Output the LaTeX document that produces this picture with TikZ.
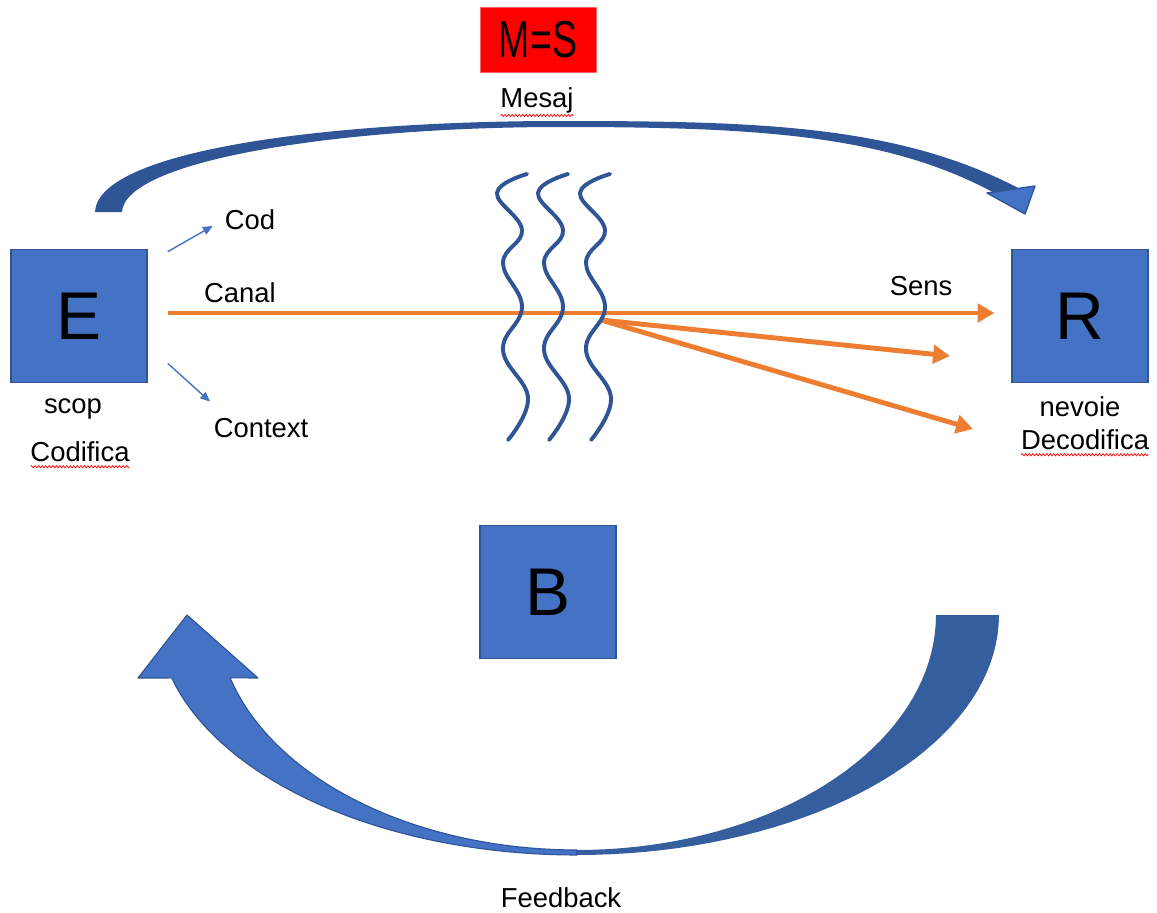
\documentclass[tikz,border=0pt]{standalone}
\usepackage{fontspec}
\setmainfont{Liberation Sans}
\usetikzlibrary{arrows.meta, positioning, calc, decorations.pathmorphing}

\definecolor{boxblue}   {RGB}{68, 114, 196}
\definecolor{deepblue}  {RGB}{47,  85, 151}
\definecolor{shadeblue} {RGB}{53,  94, 158}
\definecolor{canalorange}{RGB}{237, 125, 49}
\definecolor{msgred}    {RGB}{255,  0,   0}

\tikzset{
	actor/.style={draw=deepblue, line width=1pt, fill=boxblue, inner sep=0pt,
		minimum width=3.4cm, minimum height=3.33cm, font=\fontsize{48}{50}\selectfont},
	lbl/.style={font=\fontsize{19.5}{23}\selectfont, inner sep=1pt},
	canal/.style={canalorange, line width=3.5pt, -{Triangle[length=12pt,width=13pt]}},
	aside/.style={boxblue, line width=1pt, -{Triangle[length=7pt,width=6pt]}},
	spell/.style={red, line width=0.5pt, decorate,
		decoration={zigzag, amplitude=0.8pt, segment length=2.5pt}},
	wave/.style={deepblue, line width=2.8pt, line cap=round}
}

\begin{document}
\begin{tikzpicture}[x=0.025cm, y=-0.025cm]
	\useasboundingbox (0,0) rectangle (1157,913);

	% sender, receiver, barrier
	\node[actor] (E) at (79,316) {E};
	\node[actor] (R) at (1080,316) {R};
	\node[actor] (B) at (548,592) {B};

	% message box
	\node[fill=msgred, draw=msgred!60!white, line width=0.5pt, minimum width=2.9cm,
		minimum height=1.63cm, font=\fontsize{37}{40}\selectfont] (msg) at (538,40)
		{\scalebox{0.72}[1]{M=S}};
	\node[lbl] (mesaj) at (537,100) {Mesaj};

	\node[lbl] (cod) at (250,220) {Cod};
	\node[lbl] (canal) at (240,293) {Canal};
	\node[lbl] (context) at (261,428) {Context};
	\node[lbl] (sens) at (921,286) {Sens};
	\node[lbl] (scop) at (73,409) {scop};
	\node[lbl] (codifica) at (80,452) {Codifica};
	\node[lbl] (nevoie) at (1080,407) {nevoie};
	\node[lbl] (decodifica) at (1085,440) {Decodifica};
	\node[lbl] (feedback) at (561,898) {Feedback};

	% spell-check squiggles
	\draw[spell] ($(mesaj.south west)+(2,1)$) -- ($(mesaj.south east)+(-2,1)$);
	\draw[spell] ($(codifica.south west)+(2,3)$) -- ($(codifica.south east)+(-2,3)$);
	\draw[spell] ($(decodifica.south west)+(2,3)$) -- ($(decodifica.south east)+(-2,3)$);

	% arc over the top
	\fill[deepblue] (95,212) .. controls (98,150) and (330,121) .. (560,121)
		.. controls (760,121) and (900,125) .. (1022,190) -- (998,195)
		.. controls (890,135) and (760,127) .. (560,127)
		.. controls (340,127) and (125,160) .. (122,212) -- cycle;
	\filldraw[fill=boxblue, draw=deepblue, line width=1pt, line join=round]
		(987,193) -- (1035,186) -- (1025,214) -- cycle;

	% feedback band, back half then front half with its head
	\fill[shadeblue] plot[domain=0:90, samples=40] ({577+422*cos(\x)},{615+240*sin(\x)})
		-- plot[domain=90:0, samples=40] ({577+359*cos(\x)},{615+235*sin(\x)}) -- cycle;
	\filldraw[fill=boxblue, draw=deepblue, line width=0.8pt, line join=round]
		plot[domain=90:15.2, samples=40] ({577-420*cos(\x)},{615+240*sin(\x)})
		-- (138,678) -- (187,615) -- (258,678)
		-- plot[domain=15.5:90, samples=40] ({577-360*cos(\x)},{615+235*sin(\x)}) -- cycle;

	% channel and scattered meaning
	\coordinate (split) at (601,320);
	\coordinate (far1) at (950,356);
	\coordinate (far2) at (973,429);
	\draw[canal, shorten <=0.5cm, shorten >=0.42cm] ($(E.east)+(0,-3)$) -- ($(R.west)+(0,-3)$);
	\draw[canal] (split) -- (far1);
	\draw[canal] (split) -- (far2);

	% noise
	\foreach \dx in {0,41,83}{
		\draw[wave] plot[smooth, tension=0.7] coordinates {({527+\dx},174) ({497+\dx},193)
			({522+\dx},230) ({503+\dx},263) ({522+\dx},307) ({503+\dx},350)
			({528+\dx},398) ({508+\dx},440)};
	}

	% code and context
	\draw[aside, shorten >=0.3cm] ($(E.north east)+(20,3)$) -- (cod.west);
	\draw[aside] ($(E.south east)+(20,-20)$) -- ($(context.north west)+(-2,-15)$);
\end{tikzpicture}
\end{document}
